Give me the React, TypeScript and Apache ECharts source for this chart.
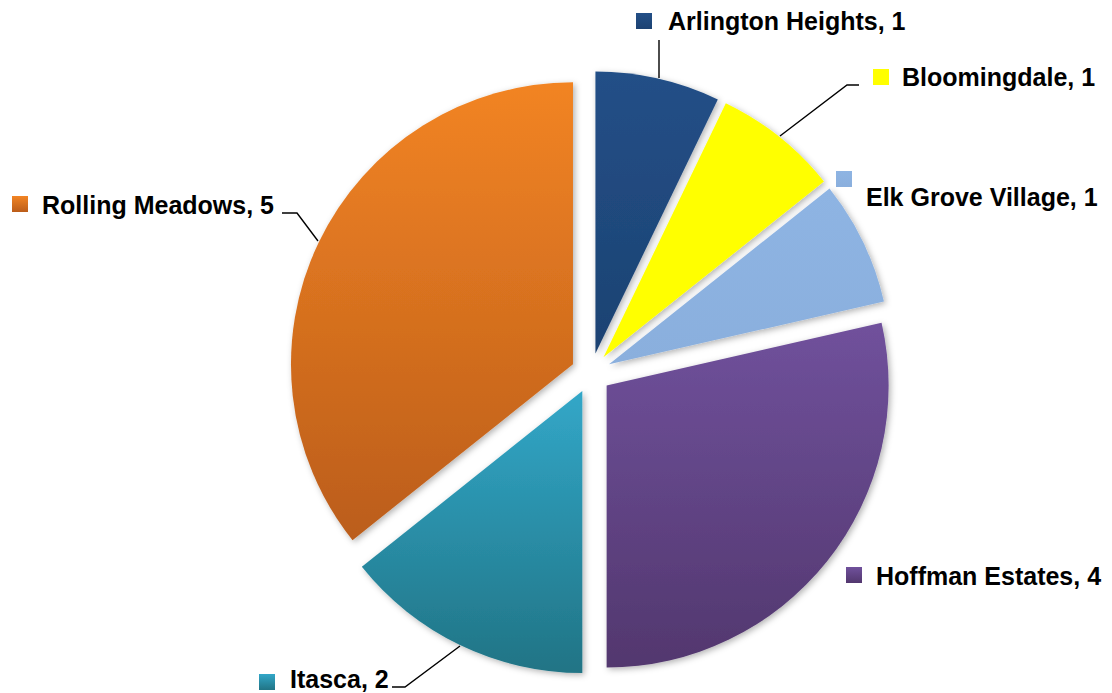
import React, { useEffect, useRef } from "react";
import * as echarts from "echarts";

const categories = [
  "Arlington Heights",
  "Bloomingdale",
  "Elk Grove Village",
  "Hoffman Estates",
  "Itasca",
  "Rolling Meadows",
];
const values = [1, 1, 1, 4, 2, 5];

// top / bottom gradient colours per slice
const topColors = ["#234F87", "#FFFF00", "#8EB4E3", "#70519C", "#32A7C8", "#F28424"];
const bottomColors = ["#1C4272", "#FFFF00", "#8AAFDD", "#52376E", "#217485", "#BB5D1A"];

// label layout: [squareX, squareY, textX, textMiddleY]
const labelBoxes: number[][] = [
  [636, 13, 668, 21],
  [873, 69, 902, 77],
  [836, 171, 866, 197],
  [846, 567, 876, 576],
  [259, 674, 290, 679],
  [12, 196, 42, 205],
];
const leaderLines: (number[][] | null)[] = [
  [[659, 78], [659, 40]],
  [[780, 136], [847, 85], [859, 85]],
  null,
  null,
  [[460, 646], [405, 687], [392, 687]],
  [[318, 241], [297, 213], [282, 213]],
];

const grad = (i: number) =>
  new echarts.graphic.LinearGradient(0, 0, 0, 1, [
    { offset: 0, color: topColors[i] },
    { offset: 1, color: bottomColors[i] },
  ]);

export default function App() {
  const ref = useRef<HTMLDivElement>(null);
  useEffect(() => {
    if (!ref.current) return;
    const chart = echarts.init(ref.current, undefined, { renderer: "svg" });
    const data = categories.map((name, i) => ({
      name,
      value: values[i],
      selected: true,
      itemStyle: { color: grad(i) },
    }));

    const graphics: any[] = [];
    categories.forEach((name, i) => {
      const b = labelBoxes[i];
      graphics.push({
        type: "rect",
        shape: { x: b[0], y: b[1], width: 16, height: 16 },
        style: { fill: grad(i) },
        silent: true,
      });
      graphics.push({
        type: "text",
        x: b[2],
        y: b[3],
        style: {
          text: `${name}, ${values[i]}`,
          fontFamily: "Liberation Sans",
          fontWeight: "bold",
          fontSize: 25,
          fill: "#000000",
          textAlign: "left",
          textVerticalAlign: "middle",
        },
        silent: true,
      });
      const pts = leaderLines[i];
      if (pts) {
        graphics.push({
          type: "polyline",
          shape: { points: pts },
          style: { stroke: "#000000", lineWidth: 1.4, fill: null },
          silent: true,
        });
      }
    });

    chart.setOption({
      animation: false,
      backgroundColor: "#ffffff",
      graphic: graphics,
      series: [
        {
          type: "pie",
          center: [591, 373],
          radius: [0, 282],
          startAngle: 90,
          clockwise: true,
          selectedMode: "multiple",
          selectedOffset: 20,
          data,
          itemStyle: {
            shadowBlur: 6,
            shadowColor: "rgba(0,0,0,0.3)",
            shadowOffsetX: 2,
            shadowOffsetY: 2,
          },
          emphasis: { disabled: true },
          label: { show: false },
          labelLine: { show: false },
        },
      ],
    });
    return () => chart.dispose();
  }, []);
  return (
    <div
      ref={ref}
      style={{ position: "absolute", left: 0, top: 0, width: 1112, height: 693 }}
    />
  );
}
